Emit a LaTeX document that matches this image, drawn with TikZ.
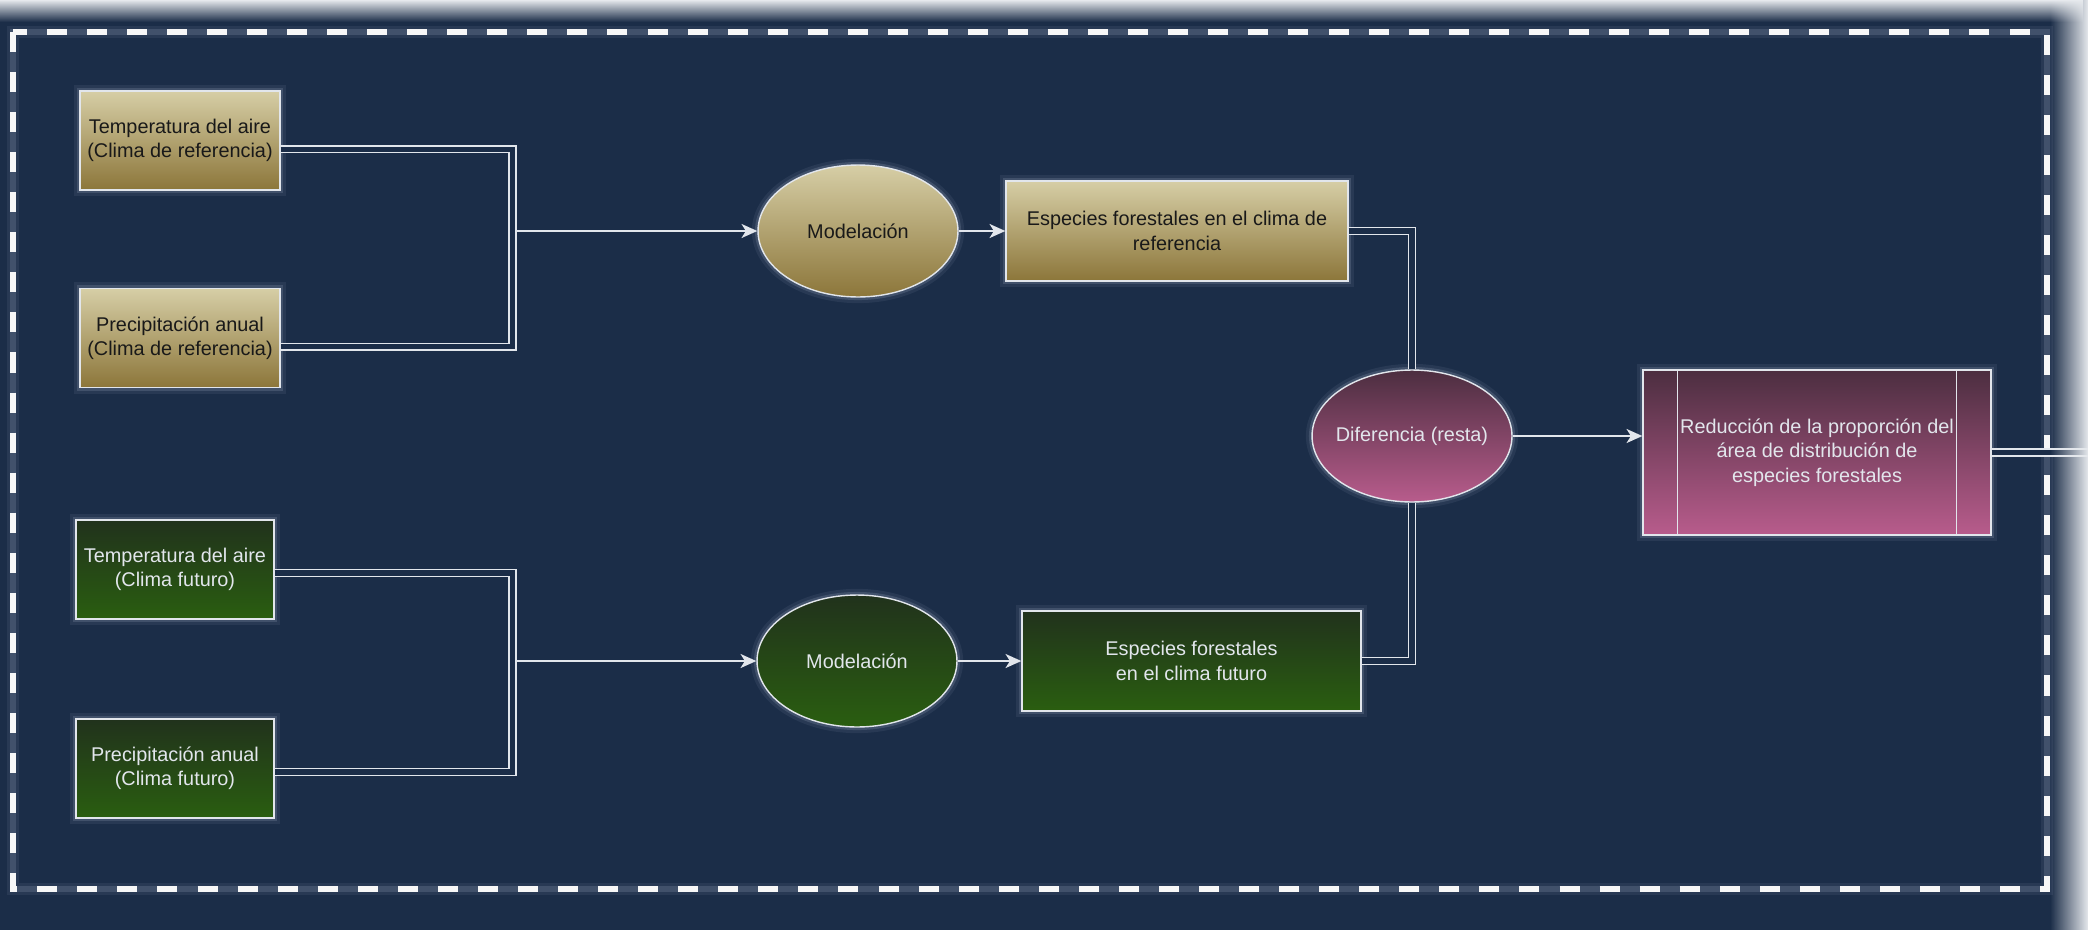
\documentclass[tikz,border=0pt]{standalone}
\usepackage{fontspec}
\setmainfont{Liberation Sans}
\usetikzlibrary{arrows.meta,shapes.geometric,fadings}
\definecolor{navybg}{RGB}{27,45,72}
\definecolor{outbg}{RGB}{230,233,237}
\definecolor{goldtop}{RGB}{214,206,166}
\definecolor{goldbot}{RGB}{140,118,58}
\definecolor{greentop}{RGB}{33,50,28}
\definecolor{greenbot}{RGB}{42,94,16}
\definecolor{pinktop}{RGB}{76,46,64}
\definecolor{pinkbot}{RGB}{184,92,140}
\definecolor{edge}{RGB}{226,230,236}
\definecolor{glowc}{RGB}{196,210,232}
\tikzfading[name=topedge,top color=transparent!0,bottom color=transparent!100]
\tikzfading[name=rightedge,left color=transparent!100,right color=transparent!0]
\newcommand{\ovtext}[1]{\makebox[0pt]{#1}}
\tikzset{
  glow/.style={preaction={draw=glowc,draw opacity=.08,line width=7pt},
               preaction={draw=glowc,draw opacity=.16,line width=3.5pt}},
  box/.style={glow,rectangle,draw=edge,line width=.8pt,align=center,inner sep=2pt,
              font=\fontsize{11.3}{13.9}\selectfont},
  oval/.style={box,ellipse,inner sep=0pt,minimum width=4cm,minimum height=2.64cm},
  gold/.style={top color=goldtop,bottom color=goldbot,text=black!90},
  green/.style={top color=greentop,bottom color=greenbot,text=edge},
  pink/.style={top color=pinktop,bottom color=pinkbot,text=edge},
  arr/.style={draw=edge,line width=1pt,-{Stealth[length=9pt,width=8pt,inset=2.5pt]}},
  dbl/.style={draw=edge,line width=.8pt,double=navybg,double distance=3pt}
}
\begin{document}
\begin{tikzpicture}[x=0.02cm,y=-0.02cm]
  \useasboundingbox (0,0) rectangle (2088,930);
  \clip (0,0) rectangle (2088,930);
  % background
  \fill[navybg] (0,0) rectangle (2088,930);
  \draw[glow,white!94!gray,line width=3.4pt,dash pattern=on 11.4pt off 11.4pt]
    (13,32) rectangle (2047,889);

  % inputs
  \node[box,gold,minimum width=4cm,minimum height=1.98cm] (tr) at (180,140.5)
    {Temperatura del aire\\(Clima de referencia)};
  \node[box,gold,minimum width=4cm,minimum height=1.98cm] (pr) at (180,338)
    {Precipitación anual\\(Clima de referencia)};
  \node[box,green,minimum width=3.96cm,minimum height=1.98cm] (tf) at (175,569.5)
    {Temperatura del aire\\(Clima futuro)};
  \node[box,green,minimum width=3.96cm,minimum height=1.98cm] (pf) at (175,768.5)
    {Precipitación anual\\(Clima futuro)};

  % models and outputs
  \node[oval,gold] (mr) at (858,231) {\ovtext{Modelación}};
  \node[oval,green] (mf) at (857,661) {\ovtext{Modelación}};
  \node[box,gold,minimum width=6.84cm,minimum height=2cm] (er) at (1177,231)
    {Especies forestales en el clima de\\referencia};
  \node[box,green,minimum width=6.78cm,minimum height=2cm] (ef) at (1191.5,661)
    {Especies forestales\\en el clima futuro};
  \node[oval,pink] (dif) at (1412,436) {\ovtext{Diferencia (resta)}};
  \node[box,pink,minimum width=6.96cm,minimum height=3.3cm] (red) at (1817,452.5)
    {Reducción de la proporción del\\área de distribución de\\especies forestales};
  \draw[draw=edge,line width=.8pt] ([xshift=0.7cm]red.north west) -- ([xshift=0.7cm]red.south west);
  \draw[draw=edge,line width=.8pt] ([xshift=-0.7cm]red.north east) -- ([xshift=-0.7cm]red.south east);

  \coordinate (jr) at (512.5,231);
  \coordinate (jf) at (512.5,661);
  \coordinate (out) at (2088,452.5);

  % connectors
  \draw[dbl] ([yshift=-5pt]tr.east) -| (jr) |- ([yshift=-5pt]pr.east);
  \draw[dbl] ([yshift=-2pt]tf.east) -| (jf) |- ([yshift=-2pt]pf.east);
  \draw[dbl] (er.east) -| (dif.north);
  \draw[dbl] (ef.east) -| (dif.south);
  \draw[dbl] (red.east) -- (out);
  \draw[arr] ([xshift=2pt]jr) -- (mr);
  \draw[arr] ([xshift=2pt]jf) -- (mf);
  \foreach \from/\to in {mr/er,mf/ef,dif/red}
    \draw[arr] (\from) -- (\from -| \to.west);

  % soft page edges
  \fill[outbg,path fading=topedge] (0,0) rectangle (2088,22);
  \fill[outbg,path fading=rightedge] (2050,0) rectangle (2088,930);
\end{tikzpicture}
\end{document}
